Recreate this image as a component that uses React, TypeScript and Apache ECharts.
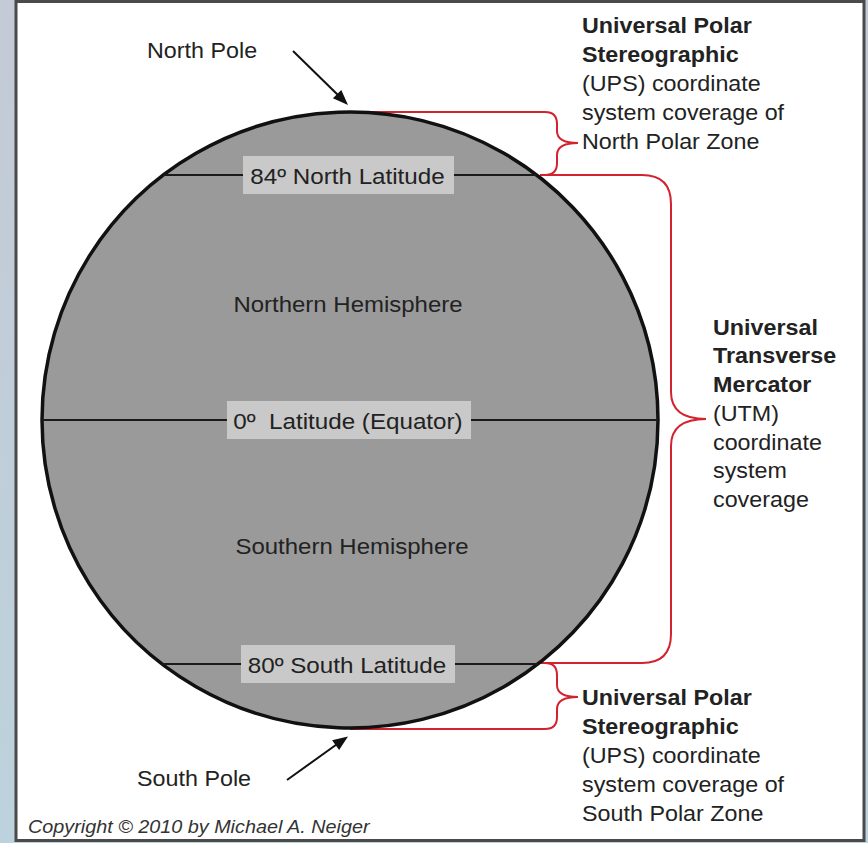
import React, { useEffect, useRef } from "react";
import * as echarts from "echarts";

const W = 868;
const H = 843;

// Globe
const globe = { cx: 350, cy: 420, r: 308 };

// Latitude bands: label, y, box (left, right)
const latitudeLabels = ["84º North Latitude", "0º  Latitude (Equator)", "80º South Latitude"];
const latitudeY = [175, 420, 664];
const latitudeBoxX = [[243, 454], [227, 471], [241, 455]];

const hemisphereLabels = ["Northern Hemisphere", "Southern Hemisphere"];
const hemisphereY = [304, 546];
const hemisphereX = [348, 352];

const northUPSLines = [
  { t: "Universal Polar", b: true },
  { t: "Stereographic", b: true },
  { t: "(UPS) coordinate", b: false },
  { t: "system coverage of", b: false },
  { t: "North Polar Zone", b: false },
];
const utmLines = [
  { t: "Universal", b: true },
  { t: "Transverse", b: true },
  { t: "Mercator", b: true },
  { t: "(UTM)", b: false },
  { t: "coordinate", b: false },
  { t: "system", b: false },
  { t: "coverage", b: false },
];
const southUPSLines = [
  { t: "Universal Polar", b: true },
  { t: "Stereographic", b: true },
  { t: "(UPS) coordinate", b: false },
  { t: "system coverage of", b: false },
  { t: "South Polar Zone", b: false },
];

const copyright = "Copyright © 2010 by Michael A. Neiger";

const FONT = "'Liberation Sans', Arial, Helvetica, sans-serif";
const TXT = "#222222";
const RED = "#d2232f";

const braceN =
  "M 350 112 L 545 112 Q 557 112 557 124 L 557 131 Q 557 143 578 143 Q 557 143 557 155 L 557 163 Q 557 175 545 175";
const braceUTM =
  "M 540 175 L 642 175 Q 671 175 671 204 L 671 392 Q 671 419 706 419 Q 671 419 671 446 L 671 634 Q 671 663 642 663 L 540 663";
const braceS =
  "M 545 663 Q 557 663 557 675 L 557 685 Q 557 697 578 697 Q 557 697 557 709 L 557 717 Q 557 729 545 729 L 350 729";

echarts.graphic.registerShape("braceN", echarts.graphic.extendPath(braceN, {}));
echarts.graphic.registerShape("braceUTM", echarts.graphic.extendPath(braceUTM, {}));
echarts.graphic.registerShape("braceS", echarts.graphic.extendPath(braceS, {}));

function txt(text: string, x: number, y: number, size: number, opts: any = {}) {
  const weight = opts.bold ? "bold " : "";
  const italic = opts.italic ? "italic " : "";
  return {
    type: "text",
    x,
    y,
    scaleX: opts.sx ?? 1.07,
    z: 10,
    style: {
      text,
      font: `${italic}${weight}${size}px ${FONT}`,
      fill: opts.fill ?? TXT,
      textAlign: opts.align ?? "left",
      align: opts.align ?? "left",
      textVerticalAlign: "middle",
      verticalAlign: "middle",
    },
  };
}

function chord(y: number) {
  const dy = y - globe.cy;
  const hw = Math.sqrt(globe.r * globe.r - dy * dy);
  return [globe.cx - hw, globe.cx + hw];
}

export default function App() {
  const ref = useRef<HTMLDivElement>(null);
  useEffect(() => {
    document.body.style.margin = "0";
    const chart = echarts.init(ref.current!, null, { renderer: "svg" });
    const els: any[] = [];
    // backdrop
    els.push({
      type: "rect",
      shape: { x: 0, y: 0, width: W, height: H },
      style: {
        fill: new echarts.graphic.LinearGradient(0, 0, 0, 1, [
          { offset: 0, color: "#c4cad6" },
          { offset: 1, color: "#bcd2dc" },
        ]),
      },
      z: 0,
    });
    els.push({
      type: "rect",
      shape: { x: 16, y: 1.5, width: 848, height: 839 },
      style: { fill: "#ffffff", stroke: "#4a4a4a", lineWidth: 3 },
      z: 1,
    });
    // braces
    ["braceN", "braceUTM", "braceS"].forEach((t) =>
      els.push({ type: t, x: 0, y: 0, z: 2, style: { fill: "none", stroke: RED, lineWidth: 2 } })
    );
    // globe
    els.push({
      type: "circle",
      shape: { cx: globe.cx, cy: globe.cy, r: globe.r },
      style: { fill: "#9a9a9a", stroke: "#111111", lineWidth: 3.5 },
      z: 3,
    });
    // latitude lines, boxes, labels
    latitudeLabels.forEach((lab, i) => {
      const y = latitudeY[i];
      const [x1, x2] = chord(y);
      els.push({
        type: "line",
        shape: { x1, y1: y, x2, y2: y },
        style: { stroke: "#1a1a1a", lineWidth: 2 },
        z: 4,
      });
      const [bx1, bx2] = latitudeBoxX[i];
      els.push({
        type: "rect",
        shape: { x: bx1, y: y - 19, width: bx2 - bx1, height: 38 },
        style: { fill: "#c9c9c9" },
        z: 5,
      });
      const cx = (bx1 + bx2) / 2;
      els.push(txt(lab, cx - 1, y + 1, 22, { align: "center", sx: 1.1 }));
    });
    hemisphereLabels.forEach((lab, i) => {
      els.push(txt(lab, hemisphereX[i], hemisphereY[i], 22, { align: "center", sx: 1.09 }));
    });
    // poles
    els.push(txt("North Pole", 147, 50, 22, { sx: 1.06 }));
    els.push(txt("South Pole", 137, 778, 22, { sx: 1.06 }));
    // arrows
    els.push({
      type: "line",
      shape: { x1: 293, y1: 51, x2: 340, y2: 97 },
      style: { stroke: "#111", lineWidth: 2 },
      z: 6,
    });
    els.push({
      type: "polygon",
      shape: { points: [[348, 105], [332.9, 98.3], [341.3, 89.9]] },
      style: { fill: "#111" },
      z: 6,
    });
    els.push({
      type: "line",
      shape: { x1: 287, y1: 780, x2: 340, y2: 742 },
      style: { stroke: "#111", lineWidth: 2 },
      z: 6,
    });
    els.push({
      type: "polygon",
      shape: { points: [[348, 736.5], [339.1, 750.1], [332.1, 740.3]] },
      style: { fill: "#111" },
      z: 6,
    });
    // right-hand texts
    northUPSLines.forEach((l, i) => els.push(txt(l.t, 582, 25 + i * 29, 22, { bold: l.b, sx: 1.06 })));
    utmLines.forEach((l, i) => els.push(txt(l.t, 713, 327 + i * 28.7, 22, { bold: l.b, sx: 1.06 })));
    southUPSLines.forEach((l, i) => els.push(txt(l.t, 582, 697 + i * 29, 22, { bold: l.b, sx: 1.06 })));
    // copyright
    els.push(txt(copyright, 28, 827, 18, { italic: true, fill: "#333", sx: 1.1 }));

    chart.setOption({ animation: false, graphic: { elements: els } });
    return () => chart.dispose();
  }, []);
  return <div ref={ref} style={{ width: W, height: H }} />;
}
